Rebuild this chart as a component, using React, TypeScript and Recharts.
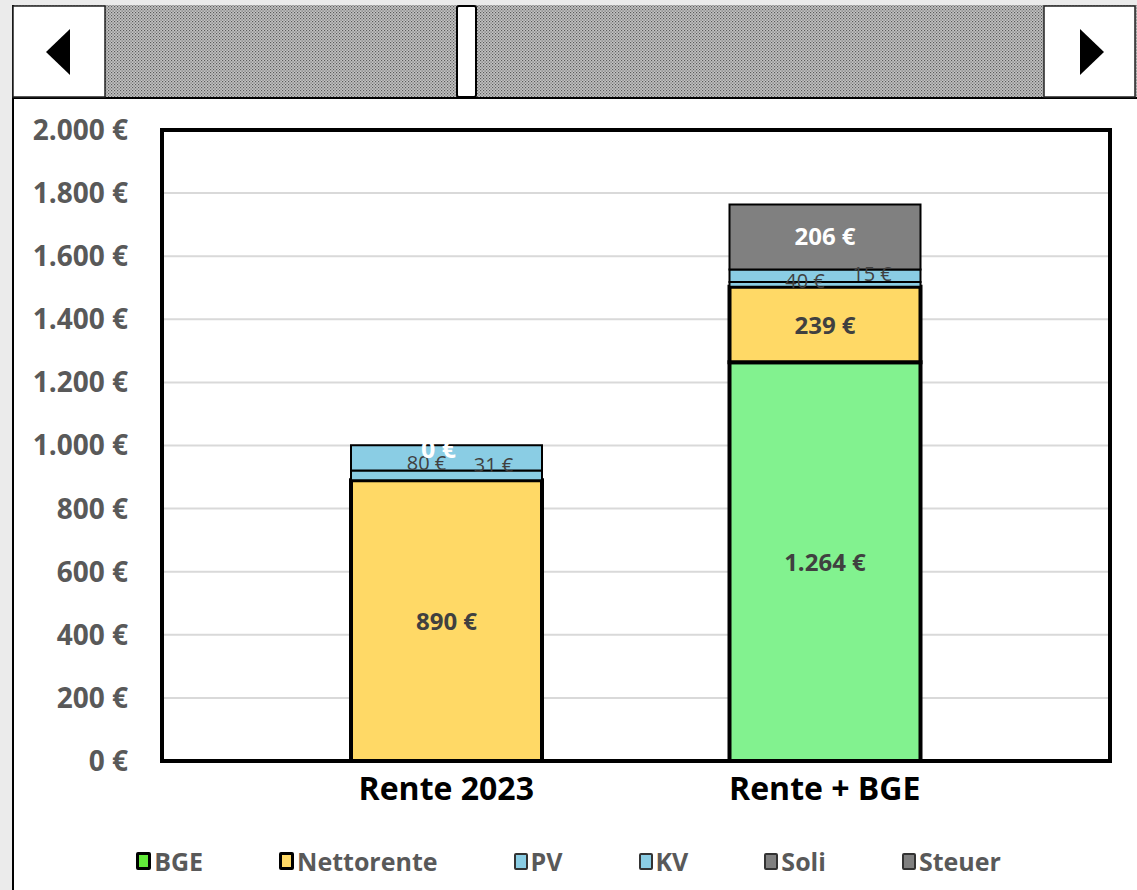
import React from 'react';
import { BarChart, Bar, XAxis, YAxis, CartesianGrid, LabelList, Legend } from 'recharts';

// ---------- data ----------
const categories = ['Rente 2023', 'Rente + BGE'];
const bgeValues = [0, 1264];
const nettorenteValues = [890, 239];
const pvValues = [31, 15];
const kvValues = [80, 40];
const soliValues = [0, 0];
const steuerValues = [0, 206];
const yTicks = [0, 200, 400, 600, 800, 1000, 1200, 1400, 1600, 1800, 2000];
const legendNames = ['BGE', 'Nettorente', 'PV', 'KV', 'Soli', 'Steuer'];

const data = categories.map((name, i) => ({
  name,
  BGE: bgeValues[i],
  Nettorente: nettorenteValues[i],
  PV: pvValues[i],
  KV: kvValues[i],
  Soli: soliValues[i],
  Steuer: steuerValues[i],
}));

// ---------- styles ----------
const FONT = '"Open Sans", "Noto Sans", sans-serif';
const COLORS: Record<string, string> = {
  BGE: '#82F28F',
  Nettorente: '#FFD966',
  PV: '#8ACDE4',
  KV: '#8ACDE4',
  Soli: '#808080',
  Steuer: '#808080',
};
const LEGEND_COLORS: Record<string, string> = {
  BGE: '#62EA3A',
  Nettorente: '#FFD966',
  PV: '#8ACDE4',
  KV: '#8ACDE4',
  Soli: '#808080',
  Steuer: '#808080',
};

const W = 1137;
const H = 890;
const PLOT_LEFT = 162;
const PLOT_RIGHT = 1110;
const PLOT_TOP = 130;
const PLOT_BOTTOM = 761;
const XAXIS_H = 40;

const fmt = (v: number) => String(v).replace(/\B(?=(\d{3})+(?!\d))/g, '.') + ' €';

type LabelOpts = { dx: number; dy: number; color: string; size: number; weight: number };
const makeLabel = (o: LabelOpts) => (props: any) => {
  const { x, y, width, height, value } = props;
  const v = Number(value);
  if (v === 0) return null;
  const cx = Number(x) + Number(width) / 2 + o.dx;
  const cy = Number(y) + Number(height) / 2 + o.dy;
  return (
    <text
      x={cx}
      y={cy}
      textAnchor="middle"
      dominantBaseline="central"
      fill={o.color}
      fontSize={o.size}
      fontWeight={o.weight}
      fontFamily={FONT}
    >
      {fmt(v)}
    </text>
  );
};

// zero-valued top segment (Steuer = 0) labelled at the top of the stack
const zeroTopLabel = (props: any) => {
  const { x, y, width, value } = props;
  if (Number(value) !== 0) return null;
  return (
    <text
      x={Number(x) + Number(width) / 2 - 8}
      y={Number(y) + 3}
      textAnchor="middle"
      dominantBaseline="central"
      fill="#ffffff"
      fontSize={25}
      fontWeight={700}
      fontFamily={FONT}
    >
      {fmt(0)}
    </text>
  );
};

const renderLegend = () => (
  <div
    style={{
      display: 'flex',
      justifyContent: 'center',
      alignItems: 'center',
      gap: 76,
      fontFamily: FONT,
      fontWeight: 700,
      fontSize: 25,
      color: '#595959',
      width: W,
    }}
  >
    {legendNames.map((n) => {
      const thick = n === 'BGE' || n === 'Nettorente';
      return (
        <div key={n} style={{ display: 'flex', alignItems: 'center', gap: 3 }}>
          <span
            style={{
              display: 'inline-block',
              width: thick ? 9 : 10,
              height: thick ? 12 : 13,
              background: LEGEND_COLORS[n],
              border: thick ? '3px solid #000' : '2px solid #333',
              borderRadius: 2,
            }}
          />
          <span>{n}</span>
        </div>
      );
    })}
  </div>
);

const Scrollbar = () => (
  <svg width={W} height={H} style={{ position: 'absolute', left: 0, top: 0 }}>
    <defs>
      <pattern id="dots" width="3" height="3" patternUnits="userSpaceOnUse">
        <rect width="3" height="3" fill="#c4c4c4" />
        <rect x="0" y="0" width="1.2" height="1.2" fill="#5a5a5a" />
        <rect x="1.5" y="1.5" width="1.2" height="1.2" fill="#6a6a6a" />
      </pattern>
    </defs>
    <rect x={0} y={0} width={W} height={H} fill="#ebebeb" />
    <rect x={14} y={99} width={W - 14} height={H - 99} fill="#ffffff" />
    <rect x={12} y={5} width={W - 12} height={94} fill="url(#dots)" />
    <line x1={12} y1={98} x2={W} y2={98} stroke="#000" strokeWidth={2} />
    <line x1={13} y1={5} x2={13} y2={H} stroke="#000" strokeWidth={2} />
    {/* left button */}
    <rect x={13} y={6} width={92} height={91} fill="#fff" stroke="#222" strokeWidth={1.5} />
    <polygon points="46,52 70,29 70,75" fill="#000" />
    {/* right button */}
    <rect x={1044} y={6} width={91} height={91} fill="#fff" stroke="#222" strokeWidth={1.5} />
    <polygon points="1104,52 1080,29 1080,75" fill="#000" />
    {/* thumb */}
    <rect x={457} y={6} width={19} height={91} fill="#fff" stroke="#000" strokeWidth={2} rx={2} />
  </svg>
);

const Frame = () => (
  <svg width={W} height={H} style={{ position: 'absolute', left: 0, top: 0, pointerEvents: 'none' }}>
    <rect
      x={PLOT_LEFT}
      y={PLOT_TOP}
      width={PLOT_RIGHT - PLOT_LEFT}
      height={PLOT_BOTTOM - PLOT_TOP}
      fill="none"
      stroke="#000"
      strokeWidth={4}
    />
  </svg>
);

export default function App() {
  return (
    <div style={{ position: 'relative', width: W, height: H, overflow: 'hidden' }}>
      <style>{`body{margin:0;}`}</style>
      <Scrollbar />
      <div style={{ position: 'absolute', left: 0, top: 0 }}>
        <BarChart
          width={W}
          height={H}
          data={data}
          margin={{ top: PLOT_TOP, right: W - PLOT_RIGHT, left: 0, bottom: H - PLOT_BOTTOM - XAXIS_H }}
          barSize={191}
        >
          <CartesianGrid vertical={false} stroke="#d9d9d9" strokeWidth={2} />
          <XAxis
            dataKey="name"
            axisLine={false}
            tickLine={false}
            height={XAXIS_H}
            padding={{ left: 95, right: 96 }}
            tickMargin={10}
            tick={{ fill: '#000', fontSize: 32, fontWeight: 700, fontFamily: FONT }}
          />
          <YAxis
            width={PLOT_LEFT}
            domain={[0, 2000]}
            ticks={yTicks}
            interval={0}
            axisLine={false}
            tickLine={false}
            tickMargin={28}
            tickFormatter={fmt}
            tick={{ fill: '#595959', fontSize: 28, fontWeight: 700, fontFamily: FONT }}
          />
          <Legend
            layout="vertical"
            align="center"
            verticalAlign="middle"
            content={renderLegend}
            wrapperStyle={{ top: 844, left: 0, width: W }}
          />
          <Bar dataKey="BGE" stackId="s" fill={COLORS.BGE} stroke="#000" strokeWidth={4} isAnimationActive={false}>
            <LabelList dataKey="BGE" content={makeLabel({ dx: 0, dy: 0, color: '#404040', size: 24, weight: 700 })} />
          </Bar>
          <Bar dataKey="Nettorente" stackId="s" fill={COLORS.Nettorente} stroke="#000" strokeWidth={4} isAnimationActive={false}>
            <LabelList dataKey="Nettorente" content={makeLabel({ dx: 0, dy: 0, color: '#404040', size: 24, weight: 700 })} />
          </Bar>
          <Bar dataKey="PV" stackId="s" fill={COLORS.PV} stroke="#000" strokeWidth={2} isAnimationActive={false}>
            <LabelList dataKey="PV" content={makeLabel({ dx: 47, dy: -11, color: '#404040', size: 20, weight: 400 })} />
          </Bar>
          <Bar dataKey="KV" stackId="s" fill={COLORS.KV} stroke="#000" strokeWidth={2} isAnimationActive={false}>
            <LabelList dataKey="KV" content={makeLabel({ dx: -20, dy: 5, color: '#404040', size: 20, weight: 400 })} />
            <LabelList dataKey="Steuer" content={zeroTopLabel} />
          </Bar>
          <Bar dataKey="Soli" stackId="s" fill={COLORS.Soli} stroke="#000" strokeWidth={2} isAnimationActive={false}>
            <LabelList dataKey="Soli" content={makeLabel({ dx: 0, dy: 0, color: '#ffffff', size: 24, weight: 700 })} />
          </Bar>
          <Bar dataKey="Steuer" stackId="s" fill={COLORS.Steuer} stroke="#000" strokeWidth={2} isAnimationActive={false}>
            <LabelList dataKey="Steuer" content={makeLabel({ dx: 0, dy: -1, color: '#ffffff', size: 24, weight: 700 })} />
          </Bar>
        </BarChart>
      </div>
      <Frame />
    </div>
  );
}
